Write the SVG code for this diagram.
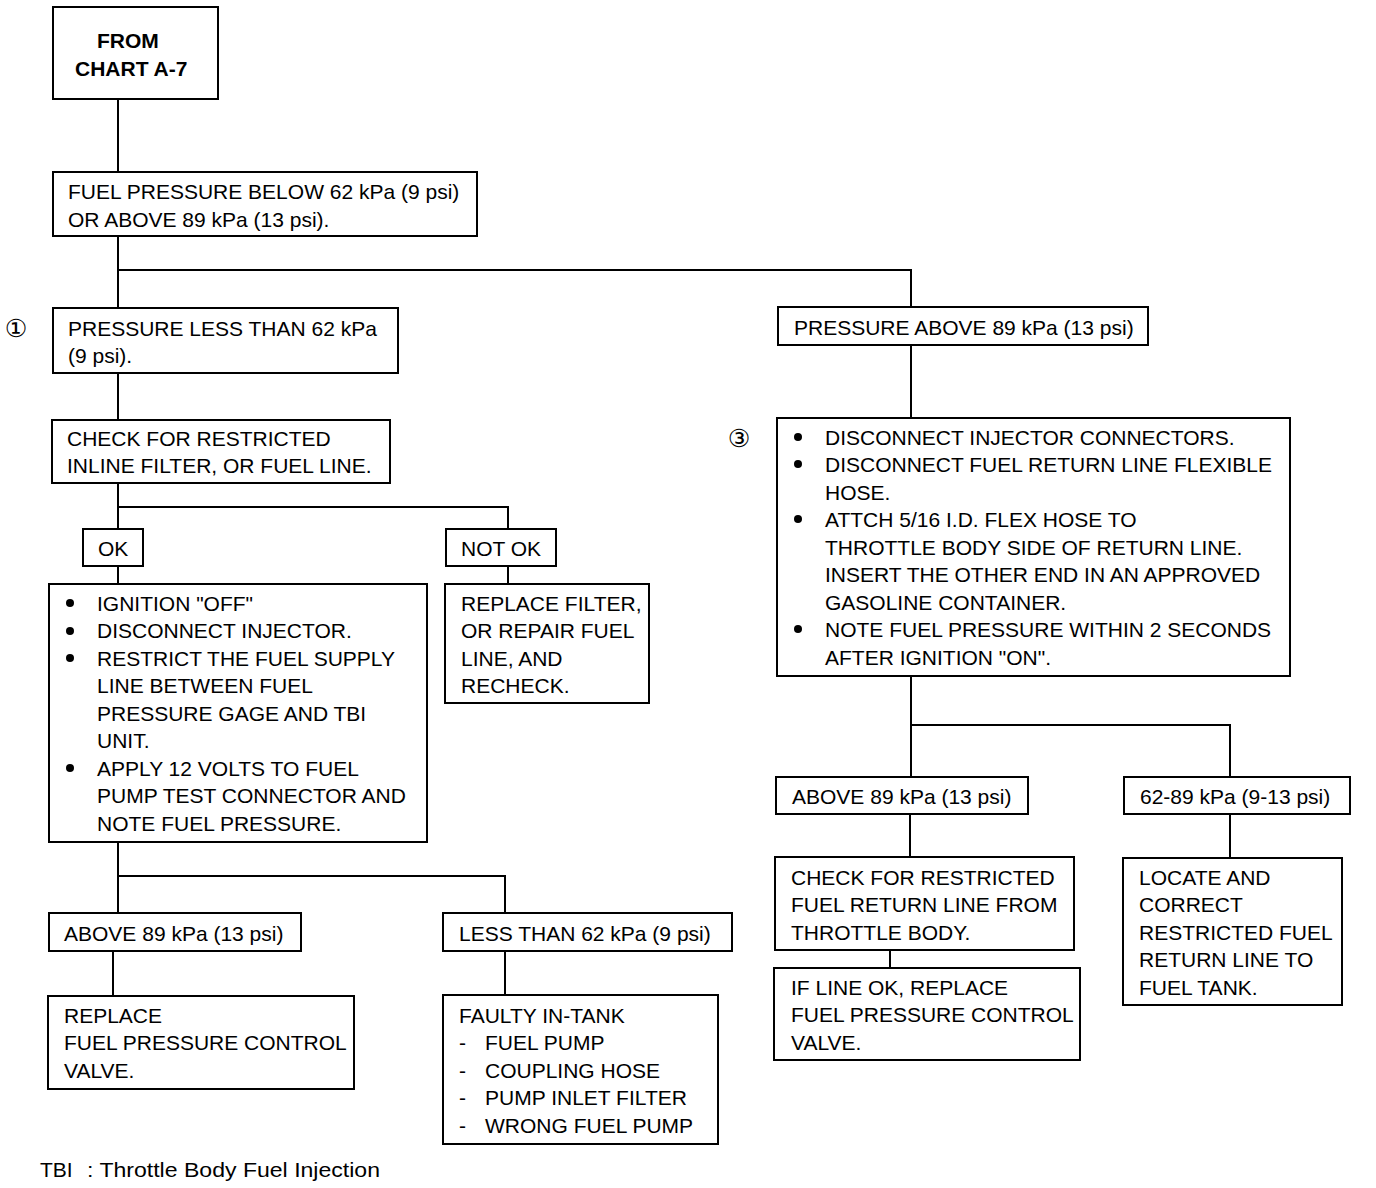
<svg xmlns="http://www.w3.org/2000/svg" width="1376" height="1188" viewBox="0 0 1376 1188">
<style>
rect.box{fill:#fff;stroke:#000;stroke-width:2}
text{font-family:"Liberation Sans",Arial,sans-serif;font-size:21px;fill:#000}
text.b{font-weight:bold}
text.num{font-family:"DejaVu Sans","Noto Sans CJK JP",sans-serif;font-size:25px}
.conn path{fill:none;stroke:#000;stroke-width:2}
circle.dot{fill:#000}
</style>
<rect width="1376" height="1188" fill="#fff"/>
<g class="conn" id="connectors">
<path d="M118 99V172"/>
<path d="M118 236V308M118 270H911V307"/>
<path d="M118 373V420"/>
<path d="M118 483V529M118 507H508V529"/>
<path d="M118 566V584"/>
<path d="M508 566V584"/>
<path d="M118 842V913M118 876H505V913"/>
<path d="M113 951V996"/>
<path d="M505 951V995"/>
<path d="M911 345V418"/>
<path d="M911 676V777M911 725H1230V777"/>
<path d="M910 814V857"/>
<path d="M1230 814V858"/>
<path d="M890 950V968"/>
</g>
<g id="n_from"><rect class="box" x="53" y="7" width="165" height="92"/>
<text class="b" x="97" y="47.5">FROM</text><text class="b" x="75" y="76">CHART A-7</text></g>
<g id="n_fuelpressure"><rect class="box" x="53" y="172" width="424" height="64"/>
<text x="68" y="199">FUEL PRESSURE BELOW 62 kPa (9 psi)</text><text x="68" y="227">OR ABOVE 89 kPa (13 psi).</text></g>
<g id="n_less62"><text class="num" x="16" y="337" text-anchor="middle">①</text>
<rect class="box" x="53" y="308" width="345" height="65"/>
<text x="68" y="335.5">PRESSURE LESS THAN 62 kPa</text><text x="68" y="362.5">(9 psi).</text></g>
<g id="n_checkfilter"><rect class="box" x="52" y="420" width="338" height="63"/>
<text x="67" y="445.5">CHECK FOR RESTRICTED</text><text x="67" y="472.5">INLINE FILTER, OR FUEL LINE.</text></g>
<g id="n_ok"><rect class="box" x="83" y="529" width="60" height="37"/><text x="98" y="555.5">OK</text></g>
<g id="n_notok"><rect class="box" x="446" y="529" width="110" height="37"/><text x="461" y="555.5">NOT OK</text></g>
<g id="n_ignition"><rect class="box" x="49" y="584" width="378" height="258"/>
<circle class="dot" cx="70" cy="603" r="4"/><circle class="dot" cx="70" cy="631" r="4"/><circle class="dot" cx="70" cy="658" r="4"/><circle class="dot" cx="70" cy="768" r="4"/>
<text x="97" y="610.5">IGNITION "OFF"</text>
<text x="97" y="638">DISCONNECT INJECTOR.</text>
<text x="97" y="665.5">RESTRICT THE FUEL SUPPLY</text>
<text x="97" y="693">LINE BETWEEN FUEL</text>
<text x="97" y="720.5">PRESSURE GAGE AND TBI</text>
<text x="97" y="748">UNIT.</text>
<text x="97" y="775.5">APPLY 12 VOLTS TO FUEL</text>
<text x="97" y="803">PUMP TEST CONNECTOR AND</text>
<text x="97" y="830.5">NOTE FUEL PRESSURE.</text></g>
<g id="n_replacefilter"><rect class="box" x="445" y="584" width="204" height="119"/>
<text x="461" y="610.5">REPLACE FILTER,</text><text x="461" y="638">OR REPAIR FUEL</text><text x="461" y="665.5">LINE, AND</text><text x="461" y="693">RECHECK.</text></g>
<g id="n_above89l"><rect class="box" x="49" y="913" width="252" height="38"/><text x="64" y="940.5">ABOVE 89 kPa (13 psi)</text></g>
<g id="n_less62b"><rect class="box" x="443" y="913" width="289" height="38"/><text x="459" y="940.5">LESS THAN 62 kPa (9 psi)</text></g>
<g id="n_replacevalve"><rect class="box" x="48" y="996" width="306" height="93"/>
<text x="64" y="1022.5">REPLACE</text><text x="64" y="1050">FUEL PRESSURE CONTROL</text><text x="64" y="1077.5">VALVE.</text></g>
<g id="n_faulty"><rect class="box" x="443" y="995" width="275" height="149"/>
<text x="459" y="1022.5">FAULTY IN-TANK</text>
<text x="459" y="1050">-</text><text x="485" y="1050">FUEL PUMP</text>
<text x="459" y="1077.5">-</text><text x="485" y="1077.5">COUPLING HOSE</text>
<text x="459" y="1105">-</text><text x="485" y="1105">PUMP INLET FILTER</text>
<text x="459" y="1132.5">-</text><text x="485" y="1132.5">WRONG FUEL PUMP</text></g>
<g id="n_above89r"><rect class="box" x="778" y="307" width="370" height="38"/><text x="794" y="334.5">PRESSURE ABOVE 89 kPa (13 psi)</text></g>
<g id="n_disconnect"><text class="num" x="739" y="447" text-anchor="middle">③</text>
<rect class="box" x="777" y="418" width="513" height="258"/>
<circle class="dot" cx="798" cy="437" r="4"/><circle class="dot" cx="798" cy="464" r="4"/><circle class="dot" cx="798" cy="519" r="4"/><circle class="dot" cx="798" cy="629" r="4"/>
<text x="825" y="444.5">DISCONNECT INJECTOR CONNECTORS.</text>
<text x="825" y="472">DISCONNECT FUEL RETURN LINE FLEXIBLE</text>
<text x="825" y="499.5">HOSE.</text>
<text x="825" y="527">ATTCH 5/16 I.D. FLEX HOSE TO</text>
<text x="825" y="554.5">THROTTLE BODY SIDE OF RETURN LINE.</text>
<text x="825" y="582">INSERT THE OTHER END IN AN APPROVED</text>
<text x="825" y="609.5">GASOLINE CONTAINER.</text>
<text x="825" y="637">NOTE FUEL PRESSURE WITHIN 2 SECONDS</text>
<text x="825" y="664.5">AFTER IGNITION "ON".</text></g>
<g id="n_above89c"><rect class="box" x="776" y="777" width="252" height="37"/><text x="792" y="803.5">ABOVE 89 kPa (13 psi)</text></g>
<g id="n_6289"><rect class="box" x="1124" y="777" width="226" height="37"/><text x="1140" y="803.5">62-89 kPa (9-13 psi)</text></g>
<g id="n_checkreturn"><rect class="box" x="775" y="857" width="299" height="93"/>
<text x="791" y="884.5">CHECK FOR RESTRICTED</text><text x="791" y="912">FUEL RETURN LINE FROM</text><text x="791" y="939.5">THROTTLE BODY.</text></g>
<g id="n_iflineok"><rect class="box" x="774" y="968" width="306" height="92"/>
<text x="791" y="994.5">IF LINE OK, REPLACE</text><text x="791" y="1022">FUEL PRESSURE CONTROL</text><text x="791" y="1049.5">VALVE.</text></g>
<g id="n_locate"><rect class="box" x="1123" y="858" width="219" height="147"/>
<text x="1139" y="884.5">LOCATE AND</text><text x="1139" y="912">CORRECT</text><text x="1139" y="939.5">RESTRICTED FUEL</text><text x="1139" y="967">RETURN LINE TO</text><text x="1139" y="994.5">FUEL TANK.</text></g>
<g id="footnote"><text x="40" y="1177">TBI</text><text x="87" y="1177" textLength="293" lengthAdjust="spacingAndGlyphs">: Throttle Body Fuel Injection</text></g>
</svg>
